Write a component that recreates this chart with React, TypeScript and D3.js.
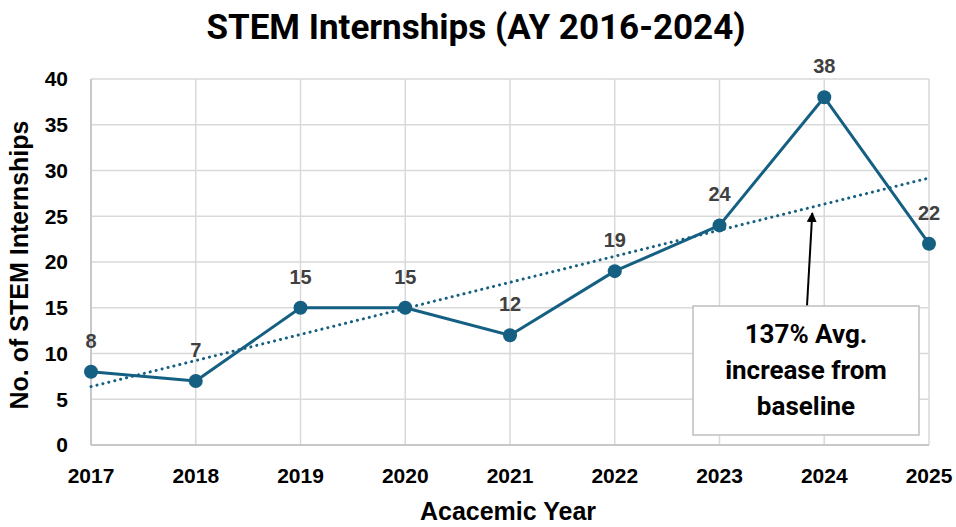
import * as d3 from 'd3';
import React from 'react';

const years = ['2017', '2018', '2019', '2020', '2021', '2022', '2023', '2024', '2025'];
const internships = [8, 7, 15, 15, 12, 19, 24, 38, 22];
const yTicks = [0, 5, 10, 15, 20, 25, 30, 35, 40];
const noteLines = ['137% Avg.', 'increase from', 'baseline'];

const W = 956;
const H = 527;
const margin = { top: 79, right: 27, bottom: 82, left: 91 };
const BLUE = '#156082';
const SANS = 'Liberation Sans, Arial, sans-serif';

export default function App() {
  const innerW = W - margin.left - margin.right;
  const innerH = H - margin.top - margin.bottom;

  const x = d3.scalePoint<string>().domain(years).range([0, innerW]);
  const y = d3.scaleLinear().domain([0, 40]).range([innerH, 0]);

  // linear trendline (least squares, same as Excel's)
  const idx = internships.map((_, i) => i);
  const mx = d3.mean(idx) as number;
  const my = d3.mean(internships) as number;
  const slope =
    d3.sum(idx, (i) => (i - mx) * (internships[i] - my)) /
    d3.sum(idx, (i) => (i - mx) * (i - mx));
  const icpt = my - slope * mx;
  const trend = [0, years.length - 1].map((i) => [x(years[i]) as number, y(icpt + slope * i)]);

  const line = d3
    .line<number>()
    .x((_, i) => x(years[i]) as number)
    .y((d) => y(d));

  // annotation arrow points at the trendline just left of 2024
  const arrowTipX = (x('2024') as number) - 12;
  const arrowTipY = y(icpt + slope * (arrowTipX / x.step())) + 6;

  const boxX = 693 - margin.left;
  const boxY = 306 - margin.top;
  const boxW = 226;
  const boxH = 129;

  return (
    <svg width={W} height={H} style={{ position: 'absolute', left: 0, top: 0, background: '#fff' }}>
      <defs>
        <marker id="arrowhead" viewBox="0 0 10 10" refX="9" refY="5" markerWidth="5" markerHeight="5" orient="auto">
          <path d="M0,0 L10,5 L0,10 z" fill="#000" />
        </marker>
      </defs>

      <text x={476} y={39} textAnchor="middle" fontFamily="Roboto, sans-serif" fontWeight={700} fontSize={35} fill="#000">
        STEM Internships (AY 2016-2024)
      </text>

      <g transform={`translate(${margin.left},${margin.top})`}>
        {/* grid */}
        {yTicks.map((t) => (
          <line key={'h' + t} x1={0} x2={innerW} y1={y(t)} y2={y(t)} stroke="#d9d9d9" strokeWidth={1.5} />
        ))}
        {years.map((yr) => (
          <line key={'v' + yr} x1={x(yr)} x2={x(yr)} y1={0} y2={innerH} stroke="#d9d9d9" strokeWidth={1.5} />
        ))}
        <line x1={0} x2={0} y1={0} y2={innerH} stroke="#bfbfbf" strokeWidth={1.5} />
        <line x1={0} x2={innerW} y1={innerH} y2={innerH} stroke="#bfbfbf" strokeWidth={1.5} />

        {/* y tick labels */}
        {yTicks.map((t) => (
          <text key={'yl' + t} x={-23} y={y(t)} dy="0.35em" textAnchor="end" fontFamily={SANS} fontWeight={700} fontSize={21} fill="#000">
            {t}
          </text>
        ))}
        {/* x tick labels */}
        {years.map((yr) => (
          <text key={'xl' + yr} x={x(yr)} y={innerH + 31} dy="0.35em" textAnchor="middle" fontFamily={SANS} fontWeight={700} fontSize={21} fill="#000">
            {yr}
          </text>
        ))}

        {/* trendline */}
        <line x1={trend[0][0]} y1={trend[0][1]} x2={trend[1][0]} y2={trend[1][1]} stroke={BLUE} strokeWidth={3} strokeDasharray="0.1 6" strokeLinecap="round" />

        {/* series */}
        <path d={line(internships) as string} fill="none" stroke={BLUE} strokeWidth={3} strokeLinejoin="round" />
        {internships.map((v, i) => (
          <circle key={'c' + i} cx={x(years[i])} cy={y(v)} r={7} fill={BLUE} />
        ))}
        {internships.map((v, i) => (
          <text key={'dl' + i} x={x(years[i])} y={y(v) - 31} dy="0.35em" textAnchor="middle" fontFamily={SANS} fontWeight={700} fontSize={20} fill="#404040">
            {v}
          </text>
        ))}

        {/* annotation */}
        <line x1={boxX + boxW / 2 + 1} y1={boxY} x2={arrowTipX} y2={arrowTipY} stroke="#000" strokeWidth={2} markerEnd="url(#arrowhead)" />
        <rect x={boxX} y={boxY} width={boxW} height={boxH} fill="#fff" stroke="#bfbfbf" strokeWidth={1.5} />
        {noteLines.map((s, i) => (
          <text key={'a' + i} x={boxX + boxW / 2} y={boxY + 28 + i * 36} dy="0.35em" textAnchor="middle" fontFamily="Roboto, sans-serif" fontWeight={700} fontSize={26} fill="#000">
            {s}
          </text>
        ))}
      </g>

      <text transform={`translate(19,265) rotate(-90)`} textAnchor="middle" dy="0.35em" fontFamily={SANS} fontWeight={700} fontSize={25} fill="#000">
        No. of STEM Internships
      </text>
      <text x={508} y={511} dy="0.35em" textAnchor="middle" fontFamily={SANS} fontWeight={700} fontSize={25} fill="#000">
        Acacemic Year
      </text>
    </svg>
  );
}
